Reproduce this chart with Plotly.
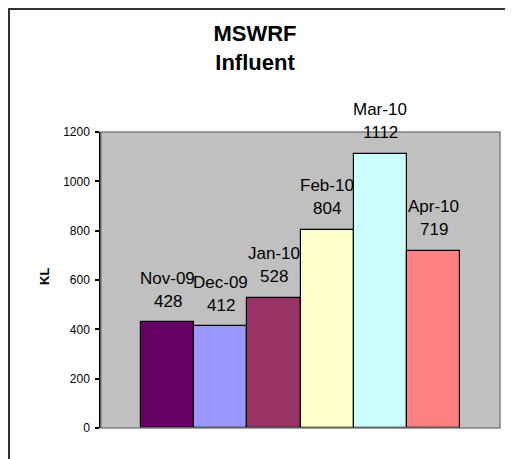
import plotly.graph_objects as go

months = ["Nov-09", "Dec-09", "Jan-10", "Feb-10", "Mar-10", "Apr-10"]
values = [428, 412, 528, 804, 1112, 719]
colors = ["#660066", "#9999FF", "#993366", "#FFFFCC", "#CCFFFF", "#FF8080"]
y_ticks = [0, 200, 400, 600, 800, 1000, 1200]

FONT = "Liberation Sans, Arial, sans-serif"
OFF = 8  # page body margin
W, H = 513 - OFF, 459 - OFF
L, R, T, B = 101 - OFF, 13, 132 - OFF, 31
pw, ph = W - L - R, H - T - B

fig = go.Figure()
fig.add_trace(go.Bar(
    x=list(range(len(months))), y=values,
    marker=dict(color=colors, line=dict(color="black", width=1.2)),
    width=1.0, showlegend=False, hoverinfo="skip",
))

annotations = []
for i, (m, v) in enumerate(zip(months, values)):
    annotations.append(dict(x=i, y=v, xref="x", yref="y", text=m, showarrow=False,
                            yanchor="middle", yshift=44,
                            font=dict(family=FONT, size=17, color="black")))
    annotations.append(dict(x=i, y=v, xref="x", yref="y", text=str(v), showarrow=False,
                            yanchor="middle", yshift=21,
                            font=dict(family=FONT, size=17, color="black")))

annotations.append(dict(x=(44 - OFF - L) / pw, y=(H - B - (277 - OFF)) / ph,
                        xref="paper", yref="paper", xanchor="center", yanchor="middle",
                        text="<b>KL</b>", textangle=-90, showarrow=False,
                        font=dict(family=FONT, size=13, color="black")))

shapes = [
    dict(type="rect", xref="paper", yref="paper", x0=0, x1=1, y0=0, y1=1,
         line=dict(color="#808080", width=1.5), layer="above"),
    dict(type="rect", xref="paper", yref="paper",
         x0=(1 - L) / pw, x1=(W + 30 - L) / pw,
         y0=(H - B - (H + 30)) / ph, y1=(H - B - 1) / ph,
         line=dict(color="#333333", width=2)),
]

fig.update_layout(
    width=W, height=H,
    margin=dict(l=L, r=R, t=T, b=B),
    paper_bgcolor="white", plot_bgcolor="#C0C0C0",
    title=dict(text="<b>MSWRF<br>Influent</b>", x=(255 - OFF) / W,
               xref="container", xanchor="center",
               y=1 - 33 / H, yref="container", yanchor="middle",
               font=dict(family=FONT, size=22, color="black")),
    xaxis=dict(range=[-1.25, 6.25], showticklabels=False, showgrid=False, zeroline=False,
               ticks="", fixedrange=True),
    yaxis=dict(range=[0, 1200], tickvals=y_ticks, ticktext=[str(t) for t in y_ticks],
               showgrid=False, zeroline=False, showline=True, linecolor="black", linewidth=1.5,
               ticks="outside", ticklen=4, tickcolor="black", tickwidth=1.5,
               ticklabelstandoff=3,
               tickfont=dict(family=FONT, size=12, color="black")),
    annotations=annotations, shapes=shapes, bargap=0,
)

fig.write_html("out.html")
